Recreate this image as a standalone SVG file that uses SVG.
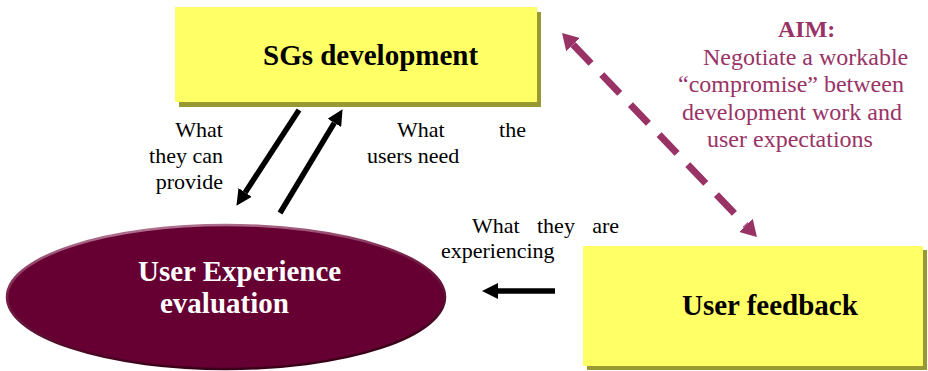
<svg xmlns="http://www.w3.org/2000/svg" width="928" height="371" viewBox="0 0 928 371">
<style>
.box{fill:#FFFF66}
.shadow{fill:#999933}
.node{font-family:"Liberation Serif","Times New Roman",serif;font-weight:bold;font-size:29px}
.lbl{font-family:"Liberation Serif","Times New Roman",serif;font-size:22px;fill:#000}
.aim{font-family:"Liberation Serif","Times New Roman",serif;font-size:24px;fill:#993366}
.blk{stroke:#000;stroke-width:5.5;fill:none}
.dash{stroke:#993366;stroke-width:7;fill:none;stroke-dasharray:26 15.5}
</style>
<defs>
<marker id="ahb" viewBox="0 0 16 16" markerWidth="16" markerHeight="16" refX="0" refY="8" orient="auto" markerUnits="userSpaceOnUse">
<path d="M0,0 L16,8 L0,16 z" fill="#000"/>
</marker>
<marker id="ahm" viewBox="0 0 16 19" markerWidth="16" markerHeight="19" refX="0" refY="9.5" orient="auto" markerUnits="userSpaceOnUse">
<path d="M0,0 L16,9.5 L0,19 z" fill="#993366"/>
</marker>
<marker id="ahms" viewBox="0 0 16 19" markerWidth="16" markerHeight="19" refX="0" refY="9.5" orient="auto-start-reverse" markerUnits="userSpaceOnUse">
<path d="M0,0 L16,9.5 L0,19 z" fill="#993366"/>
</marker>
<linearGradient id="rim" x1="0" y1="0" x2="0.3" y2="1">
<stop offset="0" stop-color="#c08aa5"/>
<stop offset="0.45" stop-color="#7a2048"/>
<stop offset="1" stop-color="#3a0018"/>
</linearGradient>
</defs>

<g id="sgs-development">
<rect class="shadow" x="179" y="12" width="362" height="95"/>
<rect class="box" x="175" y="7" width="362" height="95"/>
<text class="node" x="263" y="65">SGs development</text>
</g>

<g id="user-experience-evaluation">
<ellipse cx="226" cy="297" rx="219" ry="72" fill="#660033" stroke="url(#rim)" stroke-width="2.5"/>
<text class="node" x="138" y="281" fill="#fff">User Experience</text>
<text class="node" x="160" y="313" fill="#fff">evaluation</text>
</g>

<g id="user-feedback">
<rect class="shadow" x="587" y="250" width="340" height="120"/>
<rect class="box" x="583" y="246" width="340" height="120"/>
<text class="node" x="682" y="315">User feedback</text>
</g>

<g id="aim-note">
<text class="aim" x="778" y="37" font-weight="bold">AIM:</text>
<text class="aim" x="703" y="64.5">Negotiate a workable</text>
<text class="aim" x="678" y="92">“compromise” between</text>
<text class="aim" x="682" y="119.5">development work and</text>
<text class="aim" x="707" y="147">user expectations</text>
</g>

<g id="connectors">
<line class="blk" x1="299" y1="110" x2="245.2" y2="192.4" marker-end="url(#ahb)"/>
<line class="blk" x1="280" y1="213" x2="334.3" y2="122.9" marker-end="url(#ahb)"/>
<line class="blk" x1="555" y1="291" x2="498" y2="291" marker-end="url(#ahb)"/>
<line class="dash" x1="573.1" y1="44.6" x2="745.9" y2="225.4" marker-start="url(#ahms)" marker-end="url(#ahm)"/>
</g>

<g id="labels">
<text class="lbl" x="223" y="137" text-anchor="end">What</text>
<text class="lbl" x="223" y="163" text-anchor="end">they can</text>
<text class="lbl" x="223" y="189" text-anchor="end">provide</text>
<text class="lbl" x="397" y="137">What</text>
<text class="lbl" x="526" y="137" text-anchor="end">the</text>
<text class="lbl" x="367" y="163">users need</text>
<text class="lbl" x="472" y="233">What</text>
<text class="lbl" x="537" y="233">they</text>
<text class="lbl" x="619" y="233" text-anchor="end">are</text>
<text class="lbl" x="441" y="258">experiencing</text>
</g>
</svg>
